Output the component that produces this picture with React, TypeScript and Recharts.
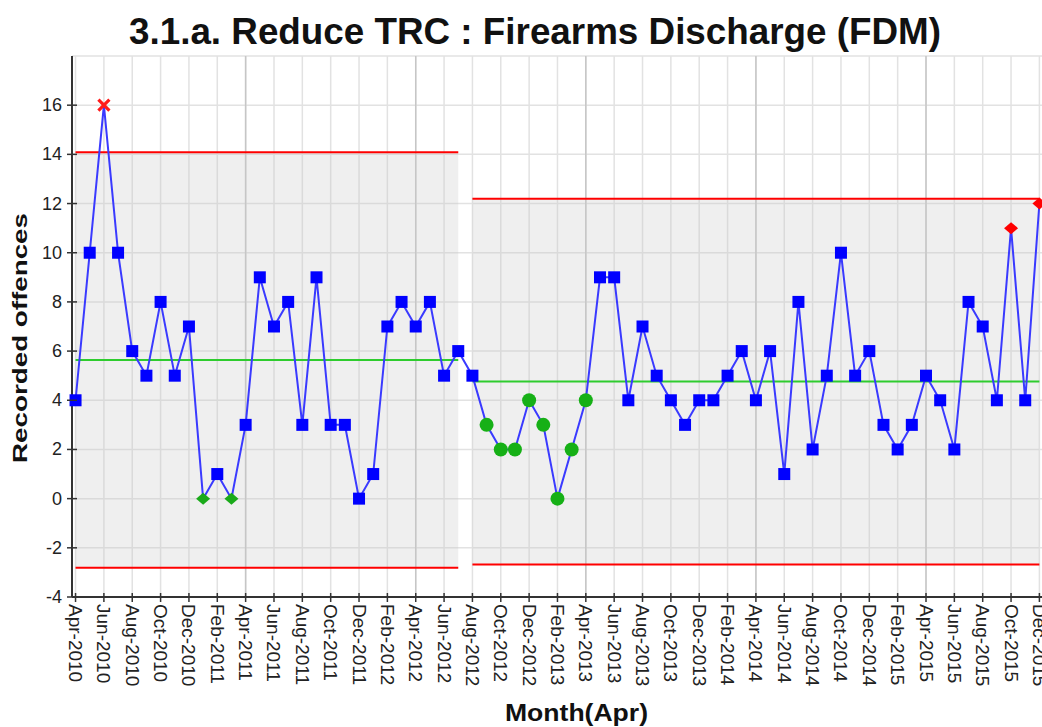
import {
  CartesianGrid,
  Line,
  LineChart,
  ReferenceArea,
  ReferenceLine,
  XAxis,
  YAxis,
} from "recharts";

const months = [
  "Apr-2010", "May-2010", "Jun-2010", "Jul-2010", "Aug-2010", "Sep-2010", "Oct-2010", "Nov-2010", "Dec-2010",
  "Jan-2011", "Feb-2011", "Mar-2011", "Apr-2011", "May-2011", "Jun-2011", "Jul-2011", "Aug-2011", "Sep-2011",
  "Oct-2011", "Nov-2011", "Dec-2011", "Jan-2012", "Feb-2012", "Mar-2012", "Apr-2012", "May-2012", "Jun-2012",
  "Jul-2012", "Aug-2012", "Sep-2012", "Oct-2012", "Nov-2012", "Dec-2012", "Jan-2013", "Feb-2013", "Mar-2013",
  "Apr-2013", "May-2013", "Jun-2013", "Jul-2013", "Aug-2013", "Sep-2013", "Oct-2013", "Nov-2013", "Dec-2013",
  "Jan-2014", "Feb-2014", "Mar-2014", "Apr-2014", "May-2014", "Jun-2014", "Jul-2014", "Aug-2014", "Sep-2014",
  "Oct-2014", "Nov-2014", "Dec-2014", "Jan-2015", "Feb-2015", "Mar-2015", "Apr-2015", "May-2015", "Jun-2015",
  "Jul-2015", "Aug-2015", "Sep-2015", "Oct-2015", "Nov-2015", "Dec-2015",
];

const offences = [
  4, 10, 16, 10, 6, 5, 8, 5, 7, 0, 1, 0, 3, 9, 7, 8, 3, 9, 3, 3, 0, 1, 7, 8, 7, 8, 5, 6,
  5, 3, 2, 2, 4, 3, 0, 2, 4, 9, 9, 4, 7, 5, 4, 3, 4, 4, 5, 6, 4, 6, 1, 8, 2, 5, 10, 5, 6,
  3, 2, 3, 5, 4, 2, 8, 7, 4, 11, 4, 12,
];

// special-cause flags (month index)
const aboveLimit = [2];
const zeroFlags = [9, 11];
const runBelowCentre = [29, 30, 31, 32, 33, 34, 35, 36];
const trendFlags = [66, 68];

// control limits per phase
const phaseStart = [0, 28];
const phaseEnd = [27, 68];
const centreLine = [5.64, 4.76];
const upperLimit = [14.09, 12.2];
const lowerLimit = [-2.81, -2.68];

const yTicks = [-4, -2, 0, 2, 4, 6, 8, 10, 12, 14, 16];

const data = months.map((m, i) => ({ idx: i, month: m, value: offences[i] }));
const xTicks = months.map((_, i) => i).filter((i) => i % 2 === 0);
const aprils = months.map((m, i) => (m.startsWith("Apr") && i > 0 ? i : -1)).filter((i) => i >= 0);

const FONT = "'Liberation Sans', Arial, sans-serif";

const XTick = (props: any) => {
  const { x, y, payload } = props;
  return (
    <g>
      <line x1={x} x2={x} y1={y - 4} y2={y + 5} stroke="#333" strokeWidth={1.5} />
      <text
        transform={`translate(${x},${y + 7}) rotate(90)`}
        textAnchor="start"
        dominantBaseline="central"
        fontSize={19}
        fontFamily={FONT}
        fill="#222"
      >
        {months[payload.value]}
      </text>
    </g>
  );
};

const YTick = (props: any) => {
  const { x, y, payload } = props;
  return (
    <g>
      <line x1={x - 5} x2={x + 5} y1={y} y2={y} stroke="#333" strokeWidth={1.5} />
      <text
        x={x - 10}
        y={y}
        textAnchor="end"
        dominantBaseline="central"
        fontSize={18}
        fontFamily={FONT}
        fill="#222"
      >
        {payload.value}
      </text>
    </g>
  );
};

const Marker = (props: any) => {
  const { cx, cy, index } = props;
  const k = `pt-${index}`;
  if (cx == null || cy == null) return <g key={k} />;
  if (aboveLimit.includes(index)) {
    return (
      <path
        key={k}
        d={`M${cx - 5.5},${cy - 5.5}L${cx + 5.5},${cy + 5.5}M${cx + 5.5},${cy - 5.5}L${cx - 5.5},${cy + 5.5}`}
        stroke="#ff1a1a"
        strokeWidth={3.2}
      />
    );
  }
  if (trendFlags.includes(index)) {
    return (
      <path key={k} d={`M${cx},${cy - 6}L${cx + 7},${cy}L${cx},${cy + 6}L${cx - 7},${cy}Z`} fill="#ff0000" />
    );
  }
  if (zeroFlags.includes(index)) {
    return (
      <path key={k} d={`M${cx},${cy - 6}L${cx + 7},${cy}L${cx},${cy + 6}L${cx - 7},${cy}Z`} fill="#1aaa1a" />
    );
  }
  if (runBelowCentre.includes(index)) {
    return <circle key={k} cx={cx} cy={cy} r={7} fill="#16b016" />;
  }
  return <rect key={k} x={cx - 6} y={cy - 6} width={12} height={12} fill="#0000ff" />;
};

export default function App() {
  return (
    <div
      style={{
        position: "absolute",
        left: 0,
        top: 0,
        width: 1042,
        height: 727,
        overflow: "hidden",
        background: "#fff",
      }}
    >
      <LineChart width={1080} height={727} data={data} margin={{ top: 56, right: 8, bottom: 0, left: 0 }}>
        <CartesianGrid stroke="#e2e2e2" strokeWidth={1.5} />
        {phaseStart.map((s, i) => (
          <ReferenceArea
            key={`band-${i}`}
            x1={s}
            x2={phaseEnd[i]}
            y1={lowerLimit[i]}
            y2={upperLimit[i]}
            fill="#c8c8c8"
            fillOpacity={0.29}
            stroke="none"
          />
        ))}
        {aprils.map((a) => (
          <ReferenceLine key={`apr-${a}`} x={a} stroke="#c6c6c6" strokeWidth={1.5} />
        ))}
        <XAxis
          dataKey="idx"
          type="number"
          domain={[-0.25, 70.3]}
          ticks={xTicks}
          interval={0}
          height={130}
          tickSize={0}
          tickMargin={0}
          tickLine={false}
          axisLine={{ stroke: "#333", strokeWidth: 2 }}
          tick={<XTick />}
        />
        <YAxis
          type="number"
          domain={[-4, 18]}
          ticks={yTicks}
          width={72}
          tickSize={0}
          tickMargin={0}
          tickLine={false}
          axisLine={{ stroke: "#333", strokeWidth: 2 }}
          tick={<YTick />}
        />
        {phaseStart.map((s, i) => (
          <ReferenceLine
            key={`ucl-${i}`}
            segment={[{ x: s, y: upperLimit[i] }, { x: phaseEnd[i], y: upperLimit[i] }]}
            stroke="#ff0000"
            strokeWidth={2}
          />
        ))}
        {phaseStart.map((s, i) => (
          <ReferenceLine
            key={`lcl-${i}`}
            segment={[{ x: s, y: lowerLimit[i] }, { x: phaseEnd[i], y: lowerLimit[i] }]}
            stroke="#ff0000"
            strokeWidth={2}
          />
        ))}
        {phaseStart.map((s, i) => (
          <ReferenceLine
            key={`cl-${i}`}
            segment={[{ x: s, y: centreLine[i] }, { x: phaseEnd[i], y: centreLine[i] }]}
            stroke="#2ecc2e"
            strokeWidth={2}
          />
        ))}
        <Line
          dataKey="value"
          stroke="#3a3aff"
          strokeWidth={2}
          dot={Marker}
          activeDot={false}
          isAnimationActive={false}
        />
      </LineChart>
      <svg
        width={1042}
        height={727}
        style={{ position: "absolute", left: 0, top: 0, pointerEvents: "none" }}
      >
        <text
          x={129}
          y={44}
          fontSize={36}
          fontWeight="bold"
          fontFamily={FONT}
          fill="#111"
          textLength={812}
          lengthAdjust="spacingAndGlyphs"
        >
          3.1.a. Reduce TRC : Firearms Discharge (FDM)
        </text>
        <text
          transform="translate(27,338) rotate(-90)"
          textAnchor="middle"
          fontSize={20}
          fontWeight="bold"
          fontFamily={FONT}
          fill="#111"
          textLength={250}
          lengthAdjust="spacingAndGlyphs"
        >
          Recorded offences
        </text>
        <text
          x={505}
          y={721}
          fontSize={23}
          fontWeight="bold"
          fontFamily={FONT}
          fill="#111"
          textLength={143}
          lengthAdjust="spacingAndGlyphs"
        >
          Month(Apr)
        </text>
      </svg>
    </div>
  );
}
